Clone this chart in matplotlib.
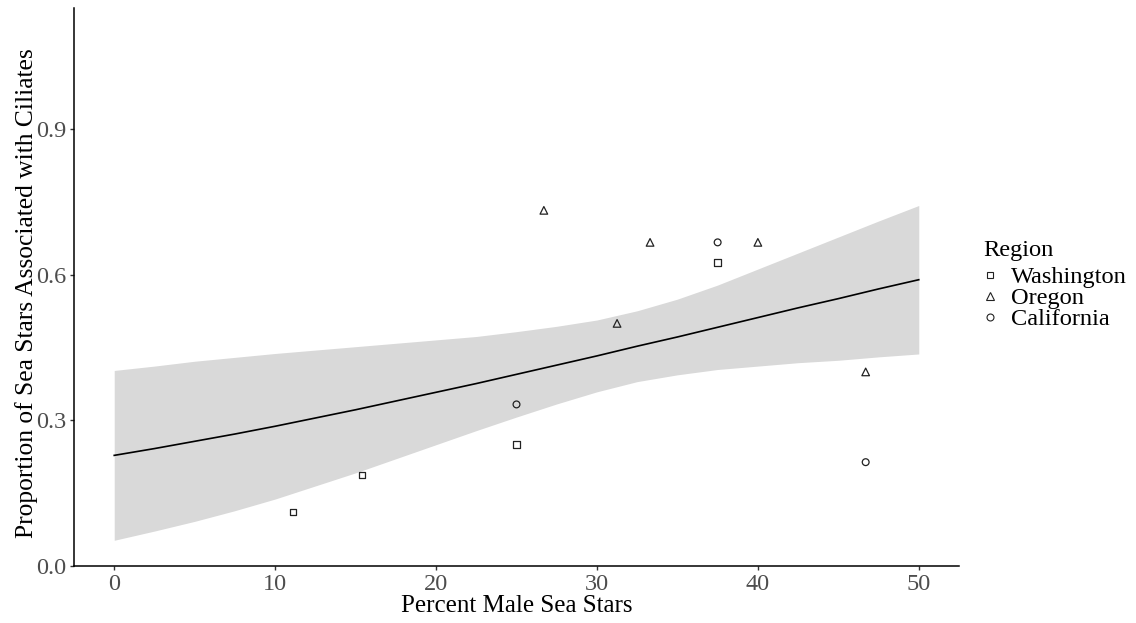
import matplotlib
matplotlib.use("Agg")
import matplotlib.pyplot as plt
from matplotlib.lines import Line2D

plt.rcParams['font.family'] = ['Liberation Serif', 'DejaVu Serif']

# Observed points
wa_x = [11.1, 15.4, 25.0, 37.5]
wa_y = [0.111, 0.1875, 0.25, 0.625]
or_x = [26.7, 33.3, 31.25, 40.0, 46.7]
or_y = [0.733, 0.667, 0.5, 0.667, 0.4]
ca_x = [25.0, 37.5, 46.7]
ca_y = [0.333, 0.667, 0.214]

# Fitted curve and confidence band
fit_x = [0, 2.5, 5, 7.5, 10, 12.5, 15, 17.5, 20, 22.5, 25, 27.5, 30, 32.5, 35,
         37.5, 40, 42.5, 45, 47.5, 50]
fit_y = [0.228, 0.242, 0.257, 0.272, 0.288, 0.305, 0.322, 0.340, 0.358, 0.376,
         0.395, 0.414, 0.433, 0.453, 0.472, 0.492, 0.512, 0.532, 0.551, 0.571, 0.590]
band_hi = [0.403, 0.412, 0.422, 0.430, 0.438, 0.445, 0.452, 0.459, 0.466, 0.473,
           0.483, 0.494, 0.507, 0.526, 0.550, 0.579, 0.612, 0.645, 0.678, 0.711, 0.743]
band_lo = [0.053, 0.072, 0.092, 0.114, 0.138, 0.165, 0.192, 0.221, 0.250, 0.279,
           0.307, 0.334, 0.359, 0.380, 0.394, 0.405, 0.412, 0.419, 0.424, 0.431, 0.437]

x_ticks = [0, 10, 20, 30, 40, 50]
y_ticks = [0.0, 0.3, 0.6, 0.9]
y_ticklabels = ["0.0", "0.3", "0.6", "0.9"]
regions = ["Washington", "Oregon", "California"]

fig = plt.figure(figsize=(11.36, 6.23), dpi=100)
ax = fig.add_axes([74/1136, 57/623, 885/1136, 558/623])

ax.fill_between(fit_x, band_lo, band_hi, color='#d9d9d9', linewidth=0, zorder=1)
ax.plot(fit_x, fit_y, color='black', linewidth=1.2, zorder=2)

mk = dict(facecolors='none', edgecolors='#222222', linewidths=0.9, zorder=3)
ax.scatter(wa_x, wa_y, marker='s', s=22, **mk)
ax.scatter(or_x, or_y, marker='^', s=30, **mk)
ax.scatter(ca_x, ca_y, marker='o', s=24, **mk)

ax.set_xlim(-2.5, 52.5)
ax.set_ylim(0, 1.15)
ax.set_xticks(x_ticks)
ax.set_yticks(y_ticks)
ax.set_yticklabels(y_ticklabels)
for s in ['top', 'right']:
    ax.spines[s].set_visible(False)
for s in ['left', 'bottom']:
    ax.spines[s].set_linewidth(1.1)
ax.tick_params(axis='both', labelsize=17.5, labelcolor='#4d4d4d', color='#333333',
               length=2.7, width=1.0, pad=3)

ax.set_xlabel("Percent Male Sea Stars", fontsize=18, labelpad=0)
ax.set_ylabel("Proportion of Sea Stars Associated with Ciliates", fontsize=18.4)
ax.yaxis.set_label_coords(-0.0407, 0.489)

handles = [
    Line2D([], [], marker='s', linestyle='none', markerfacecolor='none',
           markeredgecolor='#222222', markersize=5, markeredgewidth=0.8),
    Line2D([], [], marker='^', linestyle='none', markerfacecolor='none',
           markeredgecolor='#222222', markersize=5.5, markeredgewidth=0.8),
    Line2D([], [], marker='o', linestyle='none', markerfacecolor='none',
           markeredgecolor='#222222', markersize=5, markeredgewidth=0.8),
]
leg = fig.legend(handles, regions, title="Region",
                 loc='center left', bbox_to_anchor=(983/1136, 1 - 285/623),
                 frameon=False, fontsize=17.6, title_fontsize=17.6,
                 handlelength=0.6, handletextpad=0.55, labelspacing=-0.04,
                 borderpad=0, borderaxespad=0)
leg._legend_box.align = "left"
leg._legend_box.sep = 4

fig.savefig("out.png", dpi=100)
